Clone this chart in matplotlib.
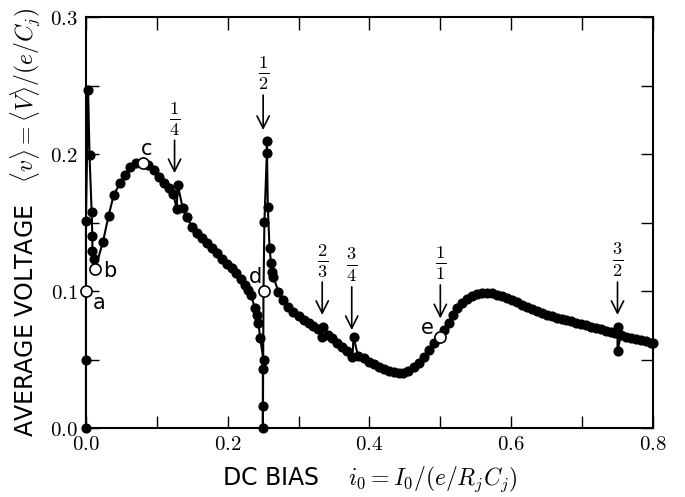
import numpy as np
import matplotlib
matplotlib.use('Agg')
import matplotlib.pyplot as plt
from matplotlib.ticker import FuncFormatter

plt.rcParams['mathtext.fontset'] = 'cm'
plt.rcParams['font.family'] = 'DejaVu Sans'

# DC bias i0 and average voltage <v>, in sweep order
bias = [0.0, 0.0, 0.0, 0.0, 0.003, 0.005, 0.008, 0.009, 0.009, 0.011, 0.013,
        0.024, 0.032, 0.039, 0.048, 0.055, 0.062, 0.0706, 0.080, 0.088, 0.096,
        0.1035, 0.110, 0.1177, 0.1233, 0.128, 0.1295, 0.1366,
        0.143, 0.1495, 0.157, 0.1634, 0.1705, 0.1775, 0.1846, 0.1917, 0.1987,
        0.2058, 0.2119, 0.2185, 0.2246, 0.229, 0.2326, 0.2387, 0.241, 0.2434,
        0.2458, 0.2505, 0.2496, 0.2496, 0.2496,
        0.2505, 0.2518, 0.2552, 0.2552, 0.2566, 0.259, 0.261, 0.2623, 0.2645,
        0.2716, 0.2787, 0.2857, 0.2928, 0.2999, 0.307, 0.314, 0.321, 0.328,
        0.3343, 0.333, 0.3409, 0.347, 0.354, 0.3611, 0.3682,
        0.376, 0.3775, 0.384, 0.3917, 0.3987, 0.4058, 0.4129, 0.420, 0.427,
        0.434, 0.4411, 0.448, 0.455, 0.4623, 0.4694, 0.4764, 0.4835, 0.4905,
        0.499, 0.5047, 0.5117, 0.518, 0.5235, 0.5306, 0.5377, 0.5448, 0.5518,
        0.5589, 0.566, 0.573, 0.580, 0.587, 0.594, 0.601, 0.608, 0.615, 0.622,
        0.629, 0.636, 0.643, 0.650, 0.657, 0.664, 0.671, 0.678, 0.685, 0.692,
        0.699, 0.706, 0.713, 0.720, 0.727, 0.734, 0.741, 0.746,
        0.750, 0.750, 0.755, 0.762, 0.769, 0.776, 0.783, 0.790, 0.797, 0.800]
voltage = [0.0, 0.05, 0.1, 0.151, 0.247, 0.199, 0.158, 0.140, 0.129, 0.123, 0.116,
           0.136, 0.155, 0.170, 0.1786, 0.185, 0.1907, 0.1937, 0.1937, 0.192, 0.1883,
           0.1834, 0.1786, 0.175, 0.171, 0.1596, 0.1774, 0.1604,
           0.154, 0.1465, 0.1425, 0.139, 0.135, 0.1315, 0.1275, 0.123, 0.1197,
           0.1166, 0.1129, 0.1085, 0.1045, 0.101, 0.097, 0.0874, 0.0825, 0.0764,
           0.0655, 0.0496, 0.0428, 0.016, 0.0,
           0.1, 0.1506, 0.2005, 0.2097, 0.161, 0.1316, 0.1207, 0.114, 0.110,
           0.0995, 0.0934, 0.0885, 0.0849, 0.0818, 0.079, 0.0765, 0.0745, 0.0725,
           0.0735, 0.0665, 0.068, 0.0655, 0.0623, 0.0594, 0.0564,
           0.0515, 0.0665, 0.0525, 0.0509, 0.0484, 0.0467, 0.0447, 0.0431, 0.0418,
           0.0406, 0.0399, 0.0404, 0.0418, 0.0443, 0.0477, 0.052, 0.0569, 0.0618,
           0.0667, 0.0715, 0.0769, 0.0825, 0.0874, 0.091, 0.094, 0.0964, 0.0978,
           0.0988, 0.0988, 0.0983, 0.097, 0.0962, 0.0948, 0.0933, 0.0917, 0.090, 0.0883,
           0.0868, 0.0853, 0.084, 0.0826, 0.0815, 0.0805, 0.0796, 0.0787, 0.0778, 0.0769,
           0.076, 0.075, 0.074, 0.073, 0.072, 0.071, 0.070, 0.0693,
           0.0735, 0.0565, 0.068, 0.0667, 0.0657, 0.0648, 0.064, 0.0632, 0.0624, 0.062]

# marked operating points a-e
open_labels = ['a', 'b', 'c', 'd', 'e']
open_x = [0.0, 0.013, 0.080, 0.2505, 0.499]
open_v = [0.1, 0.116, 0.1937, 0.1, 0.0667]
label_x = [0.018, 0.034, 0.085, 0.2387, 0.481]
label_v = [0.091, 0.1146, 0.204, 0.110, 0.073]

# resonance arrows: fraction, position, tip, tail
res_text = [r'$\frac{1}{4}$', r'$\frac{1}{2}$', r'$\frac{2}{3}$',
            r'$\frac{3}{4}$', r'$\frac{1}{1}$', r'$\frac{3}{2}$']
res_x = [0.125, 0.25, 1/3, 0.375, 0.5, 0.75]
res_tip = [0.186, 0.2175, 0.0825, 0.0715, 0.080, 0.0825]
res_tail = [0.210, 0.243, 0.1066, 0.103, 0.1044, 0.1066]

fig = plt.figure(figsize=(6.85, 4.97), dpi=100)
ax = fig.add_axes([0.1255, 0.1388, 0.8277, 0.8270])

ax.plot(bias, voltage, '-o', color='black', lw=1.5, ms=6.3, clip_on=False, zorder=3)
ax.plot(open_x, open_v, 'o', mfc='white', mec='black', mew=1.2, ms=8,
        clip_on=False, zorder=4)
for t, x, y in zip(open_labels, label_x, label_v):
    ax.text(x, y, t, fontsize=15, ha='center', va='center')

for t, x, tip, tail in zip(res_text, res_x, res_tip, res_tail):
    ax.annotate('', xy=(x, tip), xytext=(x, tail),
                arrowprops=dict(arrowstyle='->', lw=1.2, color='black',
                                mutation_scale=22, shrinkA=0, shrinkB=0))
    ax.text(x, tail + 0.002, t, fontsize=19, ha='center', va='bottom')

ax.set_xlim(0, 0.8)
ax.set_ylim(0, 0.3)
ax.set_xticks(np.arange(0, 0.81, 0.1))
ax.set_yticks(np.arange(0, 0.301, 0.05))

def xfmt(v, pos):
    return r'$%.1f$' % v if pos % 2 == 0 else ''

def yfmt(v, pos):
    return r'$%.1f$' % v if pos % 2 == 0 else ''

ax.xaxis.set_major_formatter(FuncFormatter(xfmt))
ax.yaxis.set_major_formatter(FuncFormatter(yfmt))
ax.tick_params(direction='in', top=True, right=True, length=9, width=1,
               labelsize=15)
ax.tick_params(axis='x', pad=4)
ax.tick_params(axis='y', pad=6)
for s in ax.spines.values():
    s.set_linewidth(1.5)

ax.set_xlabel(r'DC BIAS    $i_0 = I_0/(e/R_jC_j)$', fontsize=17, labelpad=8)
ax.set_ylabel(r'AVERAGE VOLTAGE   $\langle v\rangle = \langle V\rangle/(e/C_j)$',
              fontsize=17, labelpad=5)

fig.savefig('out.png', dpi=100)
